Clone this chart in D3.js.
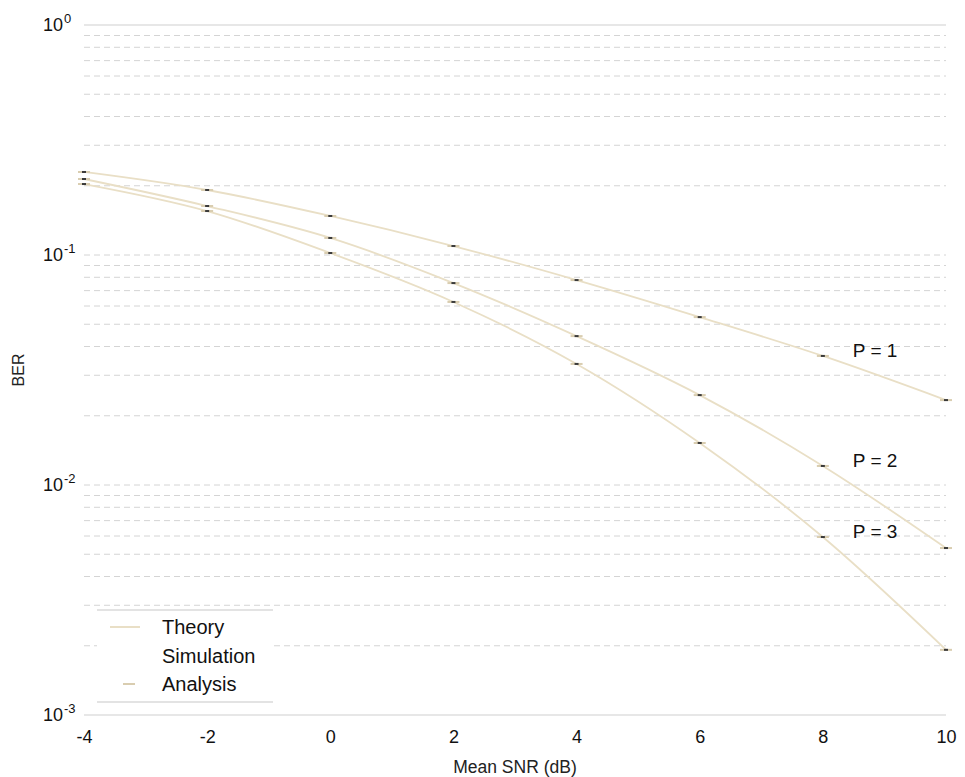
<!DOCTYPE html>
<html>
<head>
<meta charset="utf-8">
<script src="https://cdn.jsdelivr.net/npm/d3@7"></script>
<style>
  html, body { margin: 0; padding: 0; background: #fff; }
  svg { display: block; font-family: "Liberation Sans", Arial, sans-serif; }
</style>
</head>
<body>
<svg id="chart" width="965" height="777"></svg>
<script>
// Mean SNR (dB) sample points
const snr = [-4, -2, 0, 2, 4, 6, 8, 10];

// BER for each number of paths P
const berP1 = [0.2296, 0.1917, 0.1478, 0.1094, 0.0778, 0.0537, 0.0364, 0.0234];
const berP2 = [0.2140, 0.1633, 0.1186, 0.0755, 0.0444, 0.0246, 0.0121, 0.00532];
const berP3 = [0.2035, 0.1553, 0.1020, 0.0625, 0.0336, 0.01523, 0.00594, 0.00192];

const seriesNames = ["P = 1", "P = 2", "P = 3"];
const xTicks = [-4, -2, 0, 2, 4, 6, 8, 10];
const yDecades = [0, -1, -2, -3];
const legendItems = ["Theory", "Simulation", "Analysis"];

const series = [berP1, berP2, berP3].map((v, i) => ({
  name: seriesNames[i],
  points: snr.map((s, j) => ({ x: s, y: v[j] }))
}));

const svg = d3.select("#chart");
const plot = { left: 84, right: 946, top: 25, bottom: 715 };

const x = d3.scaleLinear().domain([-4, 10]).range([plot.left, plot.right]);
const y = d3.scaleLog().domain([1e-3, 1]).range([plot.bottom, plot.top]);

const lineColor = "#e9dfc6";
const gridColor = "#d4d4d4";

// minor/major horizontal grid (dashed)
const gridVals = [];
for (let e = -3; e < 0; e++) {
  for (let m = 1; m <= 9; m++) gridVals.push(m * Math.pow(10, e));
}
svg.append("g")
  .selectAll("line")
  .data(gridVals.filter(v => v > 1e-3))
  .join("line")
  .attr("x1", plot.left).attr("x2", plot.right)
  .attr("y1", d => y(d)).attr("y2", d => y(d))
  .attr("stroke", gridColor)
  .attr("stroke-width", 1)
  .attr("stroke-dasharray", "6,4");

// top and bottom frame lines
[1, 1e-3].forEach(v => {
  svg.append("line")
    .attr("x1", plot.left).attr("x2", plot.right)
    .attr("y1", y(v)).attr("y2", y(v))
    .attr("stroke", "#cfcfcf").attr("stroke-width", 1.2);
});

// x axis tick labels (plain hyphen for negatives)
const xAxis = d3.axisBottom(x).tickValues(xTicks).tickSize(0).tickPadding(0)
  .tickFormat(d => String(d));
const gx = svg.append("g").attr("transform", `translate(0,${plot.bottom + 15})`).call(xAxis);
gx.select(".domain").remove();
gx.selectAll("text")
  .attr("font-size", 18)
  .attr("fill", "#111")
  .attr("font-family", "Liberation Sans, Arial, sans-serif");

// y axis decade labels: 10 with superscript exponent
const gy = svg.append("g");
yDecades.forEach(e => {
  const t = gy.append("text")
    .attr("x", 43)
    .attr("y", y(Math.pow(10, e)) + 6)
    .attr("font-size", 18)
    .attr("fill", "#111");
  t.append("tspan").text("10");
  t.append("tspan").attr("font-size", 13).attr("dx", 1).attr("dy", -8).text(String(e));
});

// axis titles
svg.append("text")
  .attr("x", (plot.left + plot.right) / 2).attr("y", 773)
  .attr("text-anchor", "middle")
  .attr("font-size", 17.5).attr("fill", "#222")
  .text("Mean SNR (dB)");
svg.append("text")
  .attr("transform", `translate(24,${(plot.top + plot.bottom) / 2}) rotate(-90)`)
  .attr("text-anchor", "middle")
  .attr("font-size", 16).attr("fill", "#222")
  .text("BER");

// theory curves
const line = d3.line()
  .x(d => x(d.x)).y(d => y(d.y))
  .curve(d3.curveMonotoneX);

const gs = svg.append("g");
gs.selectAll("path")
  .data(series)
  .join("path")
  .attr("d", d => line(d.points))
  .attr("fill", "none")
  .attr("stroke", lineColor)
  .attr("stroke-width", 1.8);

// analysis markers (short dashes) and simulation markers (small dots)
series.forEach(s => {
  gs.append("g").selectAll("line")
    .data(s.points)
    .join("line")
    .attr("x1", d => x(d.x) - 6).attr("x2", d => x(d.x) + 6)
    .attr("y1", d => y(d.y)).attr("y2", d => y(d.y))
    .attr("stroke", "#d9cdb0").attr("stroke-width", 2);
  gs.append("g").selectAll("rect")
    .data(s.points)
    .join("rect")
    .attr("x", d => x(d.x) - 2).attr("y", d => y(d.y) - 1)
    .attr("width", 4).attr("height", 2)
    .attr("fill", "#3a3a3a");
});

// curve labels
svg.append("g").selectAll("text")
  .data(series)
  .join("text")
  .attr("x", x(8) + 30)
  .attr("y", d => y(d.points[6].y) + 1)
  .attr("font-size", 19)
  .attr("fill", "#111")
  .text(d => d.name);

// legend
const lg = svg.append("g");
lg.append("rect")
  .attr("x", 97).attr("y", 610).attr("width", 176).attr("height", 92)
  .attr("fill", "#fff");
[610, 702].forEach(yy => {
  lg.append("line")
    .attr("x1", 97).attr("x2", 273).attr("y1", yy).attr("y2", yy)
    .attr("stroke", "#c8c8c8").attr("stroke-width", 1.2);
});
legendItems.forEach((name, i) => {
  const cy = 627 + i * 28.5;
  if (i === 0) {
    lg.append("line")
      .attr("x1", 110).attr("x2", 140).attr("y1", cy).attr("y2", cy)
      .attr("stroke", lineColor).attr("stroke-width", 2);
  } else if (i === 2) {
    lg.append("line")
      .attr("x1", 123).attr("x2", 135).attr("y1", cy).attr("y2", cy)
      .attr("stroke", "#d9cdb0").attr("stroke-width", 2);
  }
  lg.append("text")
    .attr("x", 162).attr("y", cy + 7)
    .attr("font-size", 20).attr("fill", "#111")
    .text(name);
});
</script>
</body>
</html>
